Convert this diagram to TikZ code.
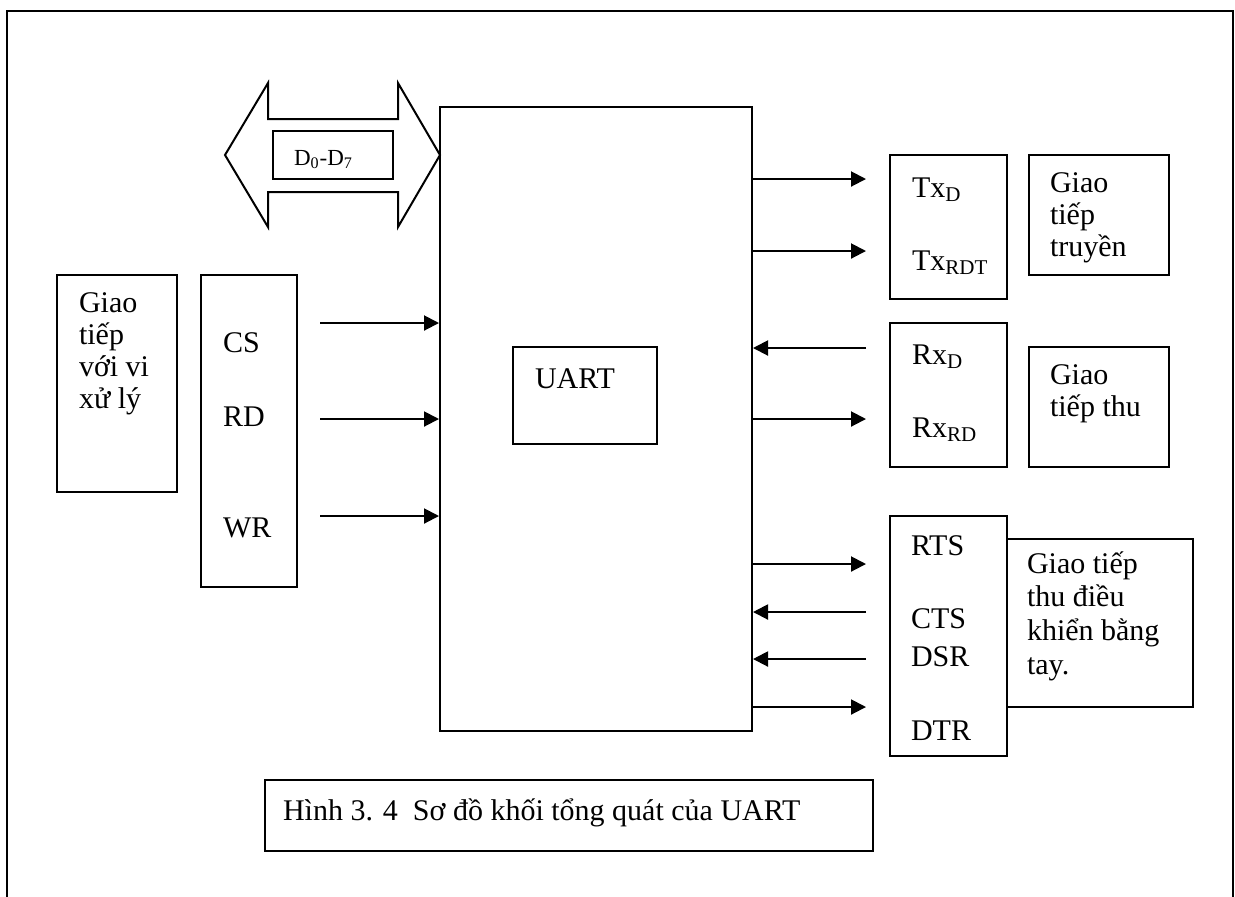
\documentclass[tikz,border=0pt]{standalone}
\usepackage{fontspec}
\setmainfont{Liberation Serif}
\usetikzlibrary{arrows.meta,fit}

\begin{document}
\begin{tikzpicture}[x=.5pt,y=-.5pt,line width=1pt,>={Triangle[length=7.5pt,width=7.5pt]},
  blk/.style={draw,inner sep=0pt},
  lbl/.style={anchor=base west,inner sep=0pt,align=left,font=\fontsize{15}{16}\selectfont},
  sig/.style={->}]
  \useasboundingbox (0,0) rectangle (1235,896);
  % outer frame, open at the bottom
  \draw (7,905) -- (7,11) -- (1233,11) -- (1233,905);

  % data bus
  \draw (225,155) -- (268,83) -- (268,119) -- (398,119) -- (398,83) -- (440,155)
    -- (398,227) -- (398,192) -- (268,192) -- (268,227) -- cycle;
  \node[blk,fit={(273,131) (393,179)}] (bus) {};
  \node[lbl,font=\fontsize{11.5}{13}\selectfont] (bus-txt) at (293,165) {D\textsubscript{0}-D\textsubscript{7}};

  % blocks
  \node[blk,fit={(57,275) (177,492)}] (cpu) {};
  \node[blk,fit={(201,275) (297,587)}] (ctl) {};
  \node[blk,fit={(440,107) (752,731)}] (uart) {};
  \node[blk,fit={(513,347) (657,444)}] (core) {};
  \node[blk,fit={(890,155) (1007,299)}] (tx) {};
  \node[blk,fit={(1029,155) (1169,275)}] (txif) {};
  \node[blk,fit={(890,323) (1007,467)}] (rx) {};
  \node[blk,fit={(1029,347) (1169,467)}] (rxif) {};
  \node[blk,fit={(890,516) (1007,756)}] (mdm) {};
  \node[blk,fit={(1007,539) (1193,707)}] (mdmif) {};
  \node[blk,fit={(265,780) (873,851)}] (cap) {};

  % texts (multi-line ones sit on their last line)
  \node[lbl] (cpu-txt) at (78,408) {Giao\\tiếp\\với vi\\xử lý};
  \node[lbl] (cs-txt) at (222,352) {CS};
  \node[lbl] (rd-txt) at (222,426) {RD};
  \node[lbl] (wr-txt) at (222,537) {WR};
  \node[lbl] (core-txt) at (534,388) {UART};
  \node[lbl] (txd-txt) at (911,197) {Tx\textsubscript{D}};
  \node[lbl] (txrdt-txt) at (911,270) {Tx\textsubscript{RDT}};
  \node[lbl] (rxd-txt) at (911,364) {Rx\textsubscript{D}};
  \node[lbl] (rxrd-txt) at (911,437) {Rx\textsubscript{RD}};
  \node[lbl] (txif-txt) at (1049,256) {Giao\\tiếp\\truyền};
  \node[lbl] (rxif-txt) at (1049,416) {Giao\\tiếp thu};
  \node[lbl] (rts-txt) at (910,555) {RTS};
  \node[lbl] (cts-txt) at (910,628) {CTS};
  \node[lbl] (dsr-txt) at (910,666) {DSR};
  \node[lbl] (dtr-txt) at (910,740) {DTR};
  \node[lbl,font=\fontsize{15}{16.8}\selectfont] (mdmif-txt) at (1026,674) {Giao tiếp\\thu điều\\khiển bằng\\tay.};
  \node[lbl] (cap-txt) at (282,820) {Hình 3. 4\ \ Sơ đồ khối tổng quát của UART};

  % signals into the UART
  \foreach \y/\n in {323/cs,419/rd,516/wr} {
    \coordinate (\n) at (320,\y);
    \draw[sig] (\n) -- (\n -| uart.west);
  }
  % signals on the serial side
  \foreach \y/\n in {179/txd,251/txrdt,419/rxrd,564/rts,707/dtr} {
    \coordinate (\n) at (866,\y);
    \draw[sig] (\n -| uart.east) -- (\n);
  }
  \foreach \y/\n in {348/rxd,612/cts,659/dsr} {
    \coordinate (\n) at (866,\y);
    \draw[sig] (\n) -- (\n -| uart.east);
  }
\end{tikzpicture}
\end{document}
